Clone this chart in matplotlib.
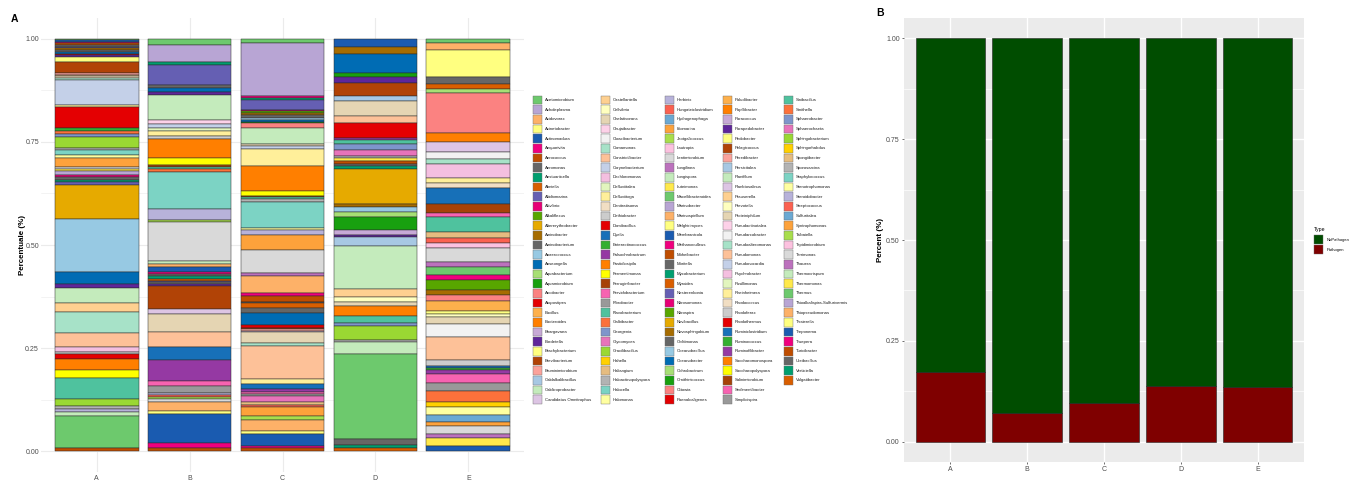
import numpy as np
import matplotlib
matplotlib.use("Agg")
import matplotlib.pyplot as plt
import matplotlib.colors as mcolors
from matplotlib.patches import Rectangle

plt.rcParams['font.family'] = ['Liberation Sans', 'DejaVu Sans']

W, H = 1365, 482

samples = ["A", "B", "C", "D", "E"]

genera = [
    "Acetomicrobium", "Acholeplasma", "Acidovorax", "Acinetobacter", "Actinomadura",
    "Aequorivita", "Aerococcus", "Aeromonas", "Aestuariicella", "Ahniella",
    "Aliidiomarina", "Aliivibrio", "Alkaliflexus", "Altererythrobacter", "Aminobacter",
    "Aminobacterium", "Anaerococcus", "Anseongella", "Aquabacterium", "Aquamicrobium",
    "Arcobacter", "Atopostipes", "Bacillus", "Bacteroides", "Bhargavaea",
    "Bordetella", "Brachybacterium", "Brevibacterium", "Bruminimicrobium", "Caldalkalibacillus",
    "Caldicoprobacter", "Candidatus Omnitrophus",
    "Castellaniella", "Cellvibrio", "Chelativorans", "Chujaibacter", "Cloacibacterium",
    "Comamonas", "Constrictibacter", "Corynebacterium", "Dechloromonas", "Defluviitalea",
    "Defluviitoga", "Denitratisoma", "Dethiobacter", "Domibacillus", "Dyella",
    "Enteractinococcus", "Falsochrobactrum", "Fastidiosipila", "Fermentimonas", "Ferruginibacter",
    "Fervidobacterium", "Fibrobacter", "Flavobacterium", "Galbibacter", "Georgenia",
    "Glycomyces", "Gracilibacillus", "Hahella", "Haliangium", "Haloactinopolyspora",
    "Halocella", "Halomonas",
    "Herbinix", "Hungateiclostridium", "Hydrogenophaga", "Idiomarina", "Jeotgalicoccus",
    "Lautropia", "Lentimicrobium", "Longilinea", "Longispora", "Luteimonas",
    "Macellibacteroides", "Marinobacter", "Marinospirillum", "Melghirimyces", "Membranicola",
    "Methanoculleus", "Moheibacter", "Moritella", "Mycobacterium", "Myroides",
    "Nesterenkonia", "Nitrosomonas", "Nitrospira", "Novibacillus", "Novosphingobium",
    "Oblitimonas", "Oceanobacillus", "Oceanobacter", "Ochrobactrum", "Ornithinicoccus",
    "Ottowia", "Paenalcaligenes",
    "Paludibacter", "Papillibacter", "Paracoccus", "Parapedobacter", "Pedobacter",
    "Pelagicoccus", "Peredibacter", "Persicitalea", "Planifilum", "Planktosalinus",
    "Prauserella", "Prevotella", "Proteiniphilum", "Pseudactinotalea", "Pseudarcobacter",
    "Pseudoalteromonas", "Pseudomonas", "Pseudonocardia", "Psychrobacter", "Pusillimonas",
    "Rheinheimera", "Rhodococcus", "Rhodoferax", "Rhodothermus", "Ruminiclostridium",
    "Ruminococcus", "Ruminofilibacter", "Saccharomonospora", "Saccharopolyspora", "Salinimicrobium",
    "Sedimentibacter", "Simplicispira",
    "Sinibacillus", "Smithella", "Sphaerobacter", "Sphaerochaeta", "Sphingobacterium",
    "Sphingorhabdus", "Spongiibacter", "Sporosarcina", "Staphylococcus", "Stenotrophomonas",
    "Steroidobacter", "Streptococcus", "Sulfuritalea", "Syntrophomonas", "Taibaiella",
    "Tepidimicrobium", "Terrimonas", "Thauera", "Thermocrispum", "Thermomonas",
    "Thermus", "Thioalkalispira-Sulfurivermis", "Thiopseudomonas", "Tissierella", "Treponema",
    "Truepera", "Turicibacter", "Ureibacillus", "Verticiella", "Vulgatibacter",
]

# RColorBrewer qualitative palettes chained together, recycled over the genera
accent = ["#7FC97F", "#BEAED4", "#FDC086", "#FFFF99", "#386CB0", "#F0027F", "#BF5B17", "#666666"]
dark2 = ["#1B9E77", "#D95F02", "#7570B3", "#E7298A", "#66A61E", "#E6AB02", "#A6761D", "#666666"]
paired = ["#A6CEE3", "#1F78B4", "#B2DF8A", "#33A02C", "#FB9A99", "#E31A1C",
          "#FDBF6F", "#FF7F00", "#CAB2D6", "#6A3D9A", "#FFFF99", "#B15928"]
pastel1 = ["#FBB4AE", "#B3CDE3", "#CCEBC5", "#DECBE4", "#FED9A6", "#FFFFCC", "#E5D8BD", "#FDDAEC", "#F2F2F2"]
pastel2 = ["#B3E2CD", "#FDCDAC", "#CBD5E8", "#F4CAE4", "#E6F5C9", "#FFF2AE", "#F1E2CC", "#CCCCCC"]
set1 = ["#E41A1C", "#377EB8", "#4DAF4A", "#984EA3", "#FF7F00", "#FFFF33", "#A65628", "#F781BF", "#999999"]
set2 = ["#66C2A5", "#FC8D62", "#8DA0CB", "#E78AC3", "#A6D854", "#FFD92F", "#E5C494", "#B3B3B3"]
set3 = ["#8DD3C7", "#FFFFB3", "#BEBADA", "#FB8072", "#80B1D3", "#FDB462",
        "#B3DE69", "#FCCDE5", "#D9D9D9", "#BC80BD", "#CCEBC5", "#FFED6F"]
qual_cols = accent + dark2 + paired + pastel1 + pastel2 + set1 + set2 + set3

# relative abundances per sample, listed top of the stack to bottom
A_genus = ["Acetomicrobium", "Actinomadura", "Aequorivita", "Aerococcus", "Aeromonas",
           "Aliidiomarina", "Aminobacter", "Aminobacterium", "Anseongella", "Atopostipes",
           "Bordetella", "Brachybacterium", "Brevibacterium", "Bruminimicrobium", "Castellaniella",
           "Chelativorans", "Comamonas", "Corynebacterium", "Defluviitoga", "Domibacillus",
           "Enteractinococcus", "Galbibacter", "Georgenia", "Gracilibacillus", "Haloactinopolyspora",
           "Halocella", "Halomonas", "Idiomarina", "Lentimicrobium", "Luteimonas",
           "Marinobacter", "Methanoculleus", "Moritella", "Mycobacterium", "Nesterenkonia",
           "Novibacillus", "Oceanobacillus", "Oceanobacter", "Parapedobacter", "Planifilum",
           "Prauserella", "Pseudoalteromonas", "Pseudomonas", "Psychrobacter", "Rhodoferax",
           "Rhodothermus", "Saccharomonospora", "Saccharopolyspora", "Sinibacillus", "Sphingobacterium",
           "Sporosarcina", "Steroidobacter", "Thermocrispum", "Thermus", "Turicibacter"]
A_abund = [0.004, 0.004, 0.003, 0.004, 0.004,
           0.003, 0.004, 0.005, 0.005, 0.003,
           0.004, 0.012, 0.027, 0.004, 0.004,
           0.005, 0.004, 0.060, 0.005, 0.048,
           0.009, 0.007, 0.006, 0.026, 0.005,
           0.012, 0.007, 0.022, 0.005, 0.005,
           0.010, 0.004, 0.006, 0.005, 0.008,
           0.082, 0.126, 0.029, 0.009, 0.036,
           0.021, 0.050, 0.033, 0.012, 0.006,
           0.010, 0.028, 0.019, 0.048, 0.019,
           0.006, 0.006, 0.010, 0.077, 0.008]

B_genus = ["Acetomicrobium", "Acholeplasma", "Aestuariicella", "Aliidiomarina", "Aminobacterium",
           "Anseongella", "Bordetella", "Caldicoprobacter", "Chujaibacter", "Corynebacterium",
           "Defluviitalea", "Defluviitoga", "Dethiobacter", "Fastidiosipila", "Fermentimonas",
           "Ferruginibacter", "Flavobacterium", "Galbibacter", "Halocella", "Herbinix",
           "Jeotgalicoccus", "Lentimicrobium", "Longispora", "Marinospirillum", "Membranicola",
           "Methanoculleus", "Moritella", "Mycobacterium", "Myroides", "Nesterenkonia",
           "Oblitimonas", "Parapedobacter", "Pelagicoccus", "Planktosalinus", "Proteiniphilum",
           "Pseudomonas", "Ruminiclostridium", "Ruminofilibacter", "Sedimentibacter", "Simplicispira",
           "Steroidobacter", "Streptococcus", "Taibaiella", "Terrimonas", "Thiopseudomonas",
           "Tissierella", "Treponema", "Truepera", "Turicibacter"]
B_abund = [0.014, 0.041, 0.007, 0.047, 0.007,
           0.008, 0.007, 0.060, 0.008, 0.010,
           0.008, 0.010, 0.008, 0.044, 0.017,
           0.004, 0.005, 0.007, 0.086, 0.026,
           0.004, 0.092, 0.007, 0.007, 0.012,
           0.004, 0.006, 0.005, 0.005, 0.004,
           0.004, 0.004, 0.053, 0.012, 0.043,
           0.034, 0.031, 0.050, 0.012, 0.015,
           0.006, 0.004, 0.005, 0.006, 0.022,
           0.007, 0.068, 0.012, 0.007]

C_genus = ["Acetomicrobium", "Acholeplasma", "Aequorivita", "Aestuariicella", "Aliidiomarina",
           "Aliivibrio", "Alkaliflexus", "Aminobacter", "Aminobacterium", "Anaerococcus",
           "Anseongella", "Aquamicrobium", "Arcobacter", "Caldicoprobacter", "Chelativorans",
           "Corynebacterium", "Defluviitoga", "Fastidiosipila", "Fermentimonas", "Ferruginibacter",
           "Flavobacterium", "Haloactinopolyspora", "Halocella", "Halomonas", "Herbinix",
           "Idiomarina", "Lentimicrobium", "Longilinea", "Marinospirillum", "Methanoculleus",
           "Moheibacter", "Moritella", "Myroides", "Oblitimonas", "Oceanobacter",
           "Paenalcaligenes", "Pelagicoccus", "Peredibacter", "Planktosalinus", "Proteiniphilum",
           "Pseudoalteromonas", "Pseudomonas", "Rheinheimera", "Ruminiclostridium", "Ruminofilibacter",
           "Sedimentibacter", "Simplicispira", "Sphaerochaeta", "Spongiibacter", "Streptococcus",
           "Syntrophomonas", "Taibaiella", "Thiopseudomonas", "Tissierella", "Treponema",
           "Truepera", "Turicibacter"]
C_abund = [0.010, 0.127, 0.005, 0.005, 0.024,
           0.004, 0.005, 0.004, 0.006, 0.005,
           0.005, 0.004, 0.010, 0.039, 0.006,
           0.006, 0.041, 0.060, 0.012, 0.004,
           0.005, 0.006, 0.063, 0.004, 0.012,
           0.036, 0.056, 0.006, 0.041, 0.009,
           0.014, 0.003, 0.012, 0.012, 0.029,
           0.005, 0.004, 0.004, 0.004, 0.026,
           0.007, 0.080, 0.012, 0.012, 0.005,
           0.006, 0.005, 0.015, 0.006, 0.006,
           0.022, 0.009, 0.027, 0.007, 0.029,
           0.005, 0.007]

D_genus = ["Actinomadura", "Aminobacter", "Anseongella", "Aquamicrobium", "Bordetella",
           "Brevibacterium", "Caldalkalibacillus", "Chelativorans", "Constrictibacter", "Domibacillus",
           "Falsochrobactrum", "Flavobacterium", "Georgenia", "Glycomyces", "Haloactinopolyspora",
           "Luteimonas", "Moheibacter", "Moritella", "Mycobacterium", "Novibacillus",
           "Novosphingobium", "Oceanobacillus", "Ochrobactrum", "Ornithinicoccus", "Paracoccus",
           "Parapedobacter", "Persicitalea", "Planifilum", "Prauserella", "Prevotella",
           "Proteiniphilum", "Saccharomonospora", "Sinibacillus", "Sphaerobacter", "Sphingobacterium",
           "Sporosarcina", "Thermocrispum", "Thermus", "Ureibacillus", "Verticiella",
           "Vulgatibacter"]
D_abund = [0.019, 0.017, 0.046, 0.010, 0.014,
           0.030, 0.014, 0.034, 0.017, 0.037,
           0.005, 0.009, 0.014, 0.014, 0.006,
           0.006, 0.007, 0.005, 0.007, 0.085,
           0.007, 0.012, 0.010, 0.031, 0.012,
           0.007, 0.020, 0.102, 0.021, 0.010,
           0.010, 0.024, 0.017, 0.007, 0.034,
           0.005, 0.029, 0.203, 0.014, 0.008,
           0.007]

E_genus = ["Acetomicrobium", "Acidovorax", "Acinetobacter", "Aeromonas", "Ahniella",
           "Aquabacterium", "Arcobacter", "Bacteroides", "Candidatus Omnitrophus", "Cloacibacterium",
           "Comamonas", "Dechloromonas", "Defluviitoga", "Denitratisoma", "Dyella",
           "Ferruginibacter", "Fervidobacterium", "Flavobacterium", "Haliangium", "Hungateiclostridium",
           "Lautropia", "Lentimicrobium", "Longilinea", "Macellibacteroides", "Methanoculleus",
           "Nitrospira", "Novosphingobium", "Ottowia", "Paludibacter", "Pedobacter",
           "Prevotella", "Proteiniphilum", "Pseudarcobacter", "Pseudomonas", "Rhodoferax",
           "Ruminiclostridium", "Ruminococcus", "Ruminofilibacter", "Sedimentibacter", "Simplicispira",
           "Smithella", "Sphingorhabdus", "Stenotrophomonas", "Sulfuritalea", "Syntrophomonas",
           "Terrimonas", "Thauera", "Thermomonas", "Treponema"]
E_abund = [0.010, 0.017, 0.063, 0.017, 0.012,
           0.010, 0.095, 0.022, 0.024, 0.016,
           0.012, 0.032, 0.012, 0.012, 0.038,
           0.022, 0.009, 0.035, 0.015, 0.012,
           0.012, 0.033, 0.012, 0.019, 0.012,
           0.024, 0.012, 0.014, 0.024, 0.007,
           0.007, 0.017, 0.030, 0.055, 0.014,
           0.005, 0.005, 0.009, 0.022, 0.017,
           0.026, 0.012, 0.019, 0.017, 0.010,
           0.019, 0.010, 0.019, 0.012]

# share of pathogenic genera per sample
pathogen = [0.173, 0.072, 0.096, 0.139, 0.135]
no_pathogen = [1 - p for p in pathogen]
type_colors = {"NoPathogen": "#004d00", "Pathogen": "#7f0000"}


def punch(hex_col, k=1.25):
    # the exported figure has a little more saturation than plain brewer colours
    h, s, v = mcolors.rgb_to_hsv(mcolors.to_rgb(hex_col))
    return mcolors.hsv_to_rgb((h, min(1.0, s * k), v))


genus_color = {g: punch(qual_cols[i % len(qual_cols)]) for i, g in enumerate(genera)}

fig = plt.figure(figsize=(W / 100, H / 100), dpi=100)


def px_axes(x0, y0, x1, y1):
    return fig.add_axes([x0 / W, 1 - y1 / H, (x1 - x0) / W, (y1 - y0) / H])


def style_ticks(ax, grid_col, major_lw, minor_lw):
    ax.set_xlim(0.4, 5.6)
    ax.set_ylim(-0.05, 1.05)
    ax.set_xticks(range(1, 6))
    ax.set_xticklabels(samples)
    ax.set_yticks([0, 0.25, 0.5, 0.75, 1.0])
    ax.set_yticklabels(["0.00", "0.25", "0.50", "0.75", "1.00"])
    ax.set_yticks([0.125, 0.375, 0.625, 0.875], minor=True)
    ax.grid(True, which="major", color=grid_col, lw=major_lw)
    ax.grid(True, which="minor", axis="y", color=grid_col, lw=minor_lw)
    ax.set_axisbelow(True)
    for s in ax.spines.values():
        s.set_visible(False)


# ---- A: genus composition ----
axA = px_axes(41, 18, 524, 472)
style_ticks(axA, "#ebebeb", 0.8, 0.4)
axA.tick_params(axis="both", which="both", length=0, labelsize=5, labelcolor="#4d4d4d")
axA.tick_params(axis="y", pad=1.5)
axA.tick_params(axis="x", pad=2.5)

stacks = [(A_genus, A_abund), (B_genus, B_abund), (C_genus, C_abund),
          (D_genus, D_abund), (E_genus, E_abund)]
for i, (gen, ab) in enumerate(stacks):
    ab = np.array(ab) / np.sum(ab)
    tops = 1 - np.concatenate([[0], np.cumsum(ab)[:-1]])
    axA.bar(np.full(len(ab), i + 1), ab, bottom=tops - ab, width=0.9,
            color=[genus_color[g] for g in gen], edgecolor="#2a2a2a", linewidth=0.35)

fig.text(22 / W, 1 - 245 / H, "Percentuale (%)", rotation=90, ha="center", va="center",
         fontsize=5.8, fontweight="bold")

# ---- B: pathogen share ----
axB = px_axes(904, 18, 1304, 462)
axB.set_facecolor("#ebebeb")
style_ticks(axB, "white", 1.0, 0.5)
axB.tick_params(axis="both", which="major", length=1.6, width=0.5, color="#333333",
                labelsize=5, labelcolor="#4d4d4d", pad=1.5)
axB.tick_params(axis="y", which="minor", length=0)
xB = np.arange(1, 6)
axB.bar(xB, pathogen, width=0.9, color=type_colors["Pathogen"], edgecolor="#222222", linewidth=0.4)
axB.bar(xB, no_pathogen, bottom=pathogen, width=0.9, color=type_colors["NoPathogen"],
        edgecolor="#222222", linewidth=0.4)

fig.text(880 / W, 1 - 240 / H, "Percent (%)", rotation=90, ha="center", va="center",
         fontsize=5.8, fontweight="bold")

# ---- legends, panel tags ----
ov = fig.add_axes([0, 0, 1, 1])
ov.set_xlim(0, W)
ov.set_ylim(H, 0)
ov.axis("off")
ov.patch.set_alpha(0)

col_x = [533, 601, 665, 723, 784]
for i, g in enumerate(genera):
    c, r = divmod(i, 32)
    x, yc = col_x[c], 100 + r * 9.667
    ov.add_patch(Rectangle((x, yc - 4.3), 8.7, 8.6, facecolor=genus_color[g],
                           edgecolor="#6e6e6e", linewidth=0.3))
    ov.text(x + 12, yc, g, fontsize=3.1, va="center", ha="left", color="#1a1a1a")

ov.text(1314, 229, "Type", fontsize=3.8, va="center", ha="left")
for k, t in enumerate(["NoPathogen", "Pathogen"]):
    y0 = 235 + k * 10
    ov.add_patch(Rectangle((1314, y0), 9, 9, facecolor=type_colors[t],
                           edgecolor="#6e6e6e", linewidth=0.3))
    ov.text(1327, y0 + 4.5, t, fontsize=3.0, va="center", ha="left")

ov.text(14.5, 19.5, "A", fontsize=7.5, fontweight="bold", ha="center", va="center")
ov.text(880.5, 12.5, "B", fontsize=7.5, fontweight="bold", ha="center", va="center")

fig.savefig("out.png", dpi=100)
